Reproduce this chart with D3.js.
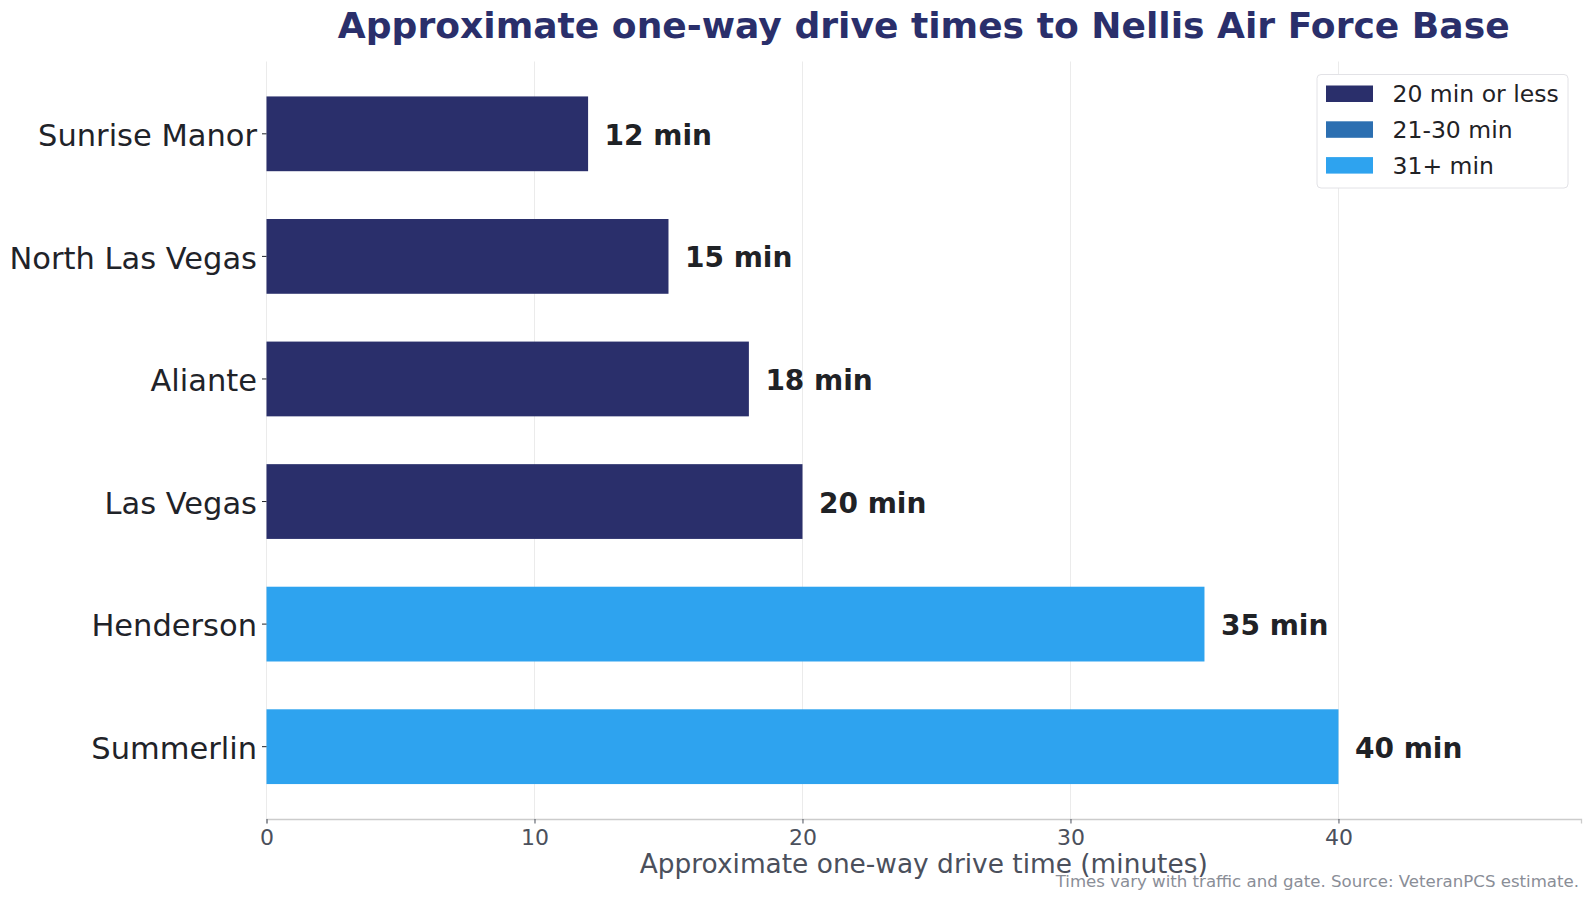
<!DOCTYPE html>
<html>
<head>
<meta charset="utf-8">
<script src="https://cdn.jsdelivr.net/npm/d3@7"></script>
<style>
  body { margin: 0; background: #fff; }
  svg { font-family: "DejaVu Sans", sans-serif; display: block; }
</style>
</head>
<body>
<div id="viz"></div>
<script>
// data
var places = ['Sunrise Manor', 'North Las Vegas', 'Aliante', 'Las Vegas', 'Henderson', 'Summerlin'];
var minutes = [12, 15, 18, 20, 35, 40];
var xTicks = [0, 10, 20, 30, 40];
var bucketNames = ['20 min or less', '21-30 min', '31+ min'];
var bucketColors = ['#2a2f6b', '#2c6fb1', '#2ea3ef'];

function bucketOf(v) {
  if (v <= 20) return 0;
  if (v <= 30) return 1;
  return 2;
}

var chart = {width: 1589, height: 900};
var m = {left: 266.5, right: 1581, top: 61.5, bottom: 819};

var svg = d3.select('#viz').append('svg')
  .attr('width', chart.width)
  .attr('height', chart.height);

var x = d3.scaleLinear().domain([0, 49.05]).range([m.left, m.right]);
var y = d3.scaleBand().domain(places).range([m.top, m.bottom])
  .paddingInner(0.39).paddingOuter(0.285);

// vertical grid
svg.append('g').selectAll('line')
  .data(xTicks)
  .enter().append('line')
  .attr('x1', d => x(d)).attr('x2', d => x(d))
  .attr('y1', m.top).attr('y2', m.bottom)
  .attr('stroke', '#ebebeb').attr('stroke-width', 1);

// bars
svg.append('g').selectAll('rect')
  .data(places)
  .enter().append('rect')
  .attr('x', x(0))
  .attr('y', d => y(d))
  .attr('width', (d, i) => x(minutes[i]) - x(0))
  .attr('height', y.bandwidth())
  .attr('fill', (d, i) => bucketColors[bucketOf(minutes[i])]);

// value labels
svg.append('g').selectAll('text')
  .data(places)
  .enter().append('text')
  .attr('x', (d, i) => x(minutes[i]) + 16.5)
  .attr('y', d => y(d) + y.bandwidth() / 2 + 1)
  .attr('dy', '0.36em')
  .attr('font-size', '28px')
  .attr('font-weight', 'bold')
  .attr('fill', '#1f2226')
  .text((d, i) => minutes[i] + ' min');

// x axis
var xAxis = svg.append('g')
  .attr('transform', 'translate(0,' + m.bottom + ')')
  .call(d3.axisBottom(x).tickValues(xTicks).tickSize(4.5).tickPadding(6));
xAxis.select('.domain').attr('stroke', '#cccccc').attr('stroke-width', 1.3);
xAxis.selectAll('.tick line').attr('stroke', '#4b505c');
xAxis.selectAll('.tick text')
  .attr('font-size', '22px').attr('fill', '#4b505c')
  .attr('font-family', '"DejaVu Sans", sans-serif');

// y axis
var yAxis = svg.append('g')
  .attr('transform', 'translate(' + m.left + ',0)')
  .call(d3.axisLeft(y).tickSize(4.5).tickPadding(5));
yAxis.select('.domain').remove();
yAxis.selectAll('.tick line').attr('stroke', '#1f2329');
yAxis.selectAll('.tick text')
  .attr('font-size', '30.5px').attr('fill', '#1f2329')
  .attr('dy', '0.4em')
  .attr('font-family', '"DejaVu Sans", sans-serif');

// axis title
svg.append('text')
  .attr('x', (m.left + m.right) / 2)
  .attr('y', 873)
  .attr('text-anchor', 'middle')
  .attr('font-size', '26.4px')
  .attr('fill', '#4b505c')
  .text('Approximate one-way drive time (minutes)');

// chart title
svg.append('text')
  .attr('x', (m.left + m.right) / 2)
  .attr('y', 37.5)
  .attr('text-anchor', 'middle')
  .attr('font-size', '36.1px')
  .attr('font-weight', 'bold')
  .attr('fill', '#2a2f6b')
  .text('Approximate one-way drive times to Nellis Air Force Base');

// footnote
svg.append('text')
  .attr('x', 1579)
  .attr('y', 887)
  .attr('text-anchor', 'end')
  .attr('font-size', '16.6px')
  .attr('fill', '#8a8e97')
  .text('Times vary with traffic and gate. Source: VeteranPCS estimate.');

// legend
var legend = svg.append('g').attr('id', 'legend');
legend.append('rect')
  .attr('x', 1317).attr('y', 74.5)
  .attr('width', 251).attr('height', 113.5)
  .attr('rx', 4)
  .attr('fill', '#fff')
  .attr('stroke', '#e2e2e6');
var rows = legend.selectAll('g.row')
  .data(bucketNames)
  .enter().append('g')
  .attr('class', 'row')
  .attr('transform', (d, i) => 'translate(1326,' + (93.5 + i * 35.8) + ')');
rows.append('rect')
  .attr('x', 0).attr('y', -8)
  .attr('width', 47).attr('height', 16.5)
  .attr('fill', (d, i) => bucketColors[i]);
rows.append('text')
  .attr('x', 66.5).attr('dy', '0.36em')
  .attr('font-size', '23.5px')
  .attr('fill', '#1f2226')
  .text(d => d);
</script>
</body>
</html>
